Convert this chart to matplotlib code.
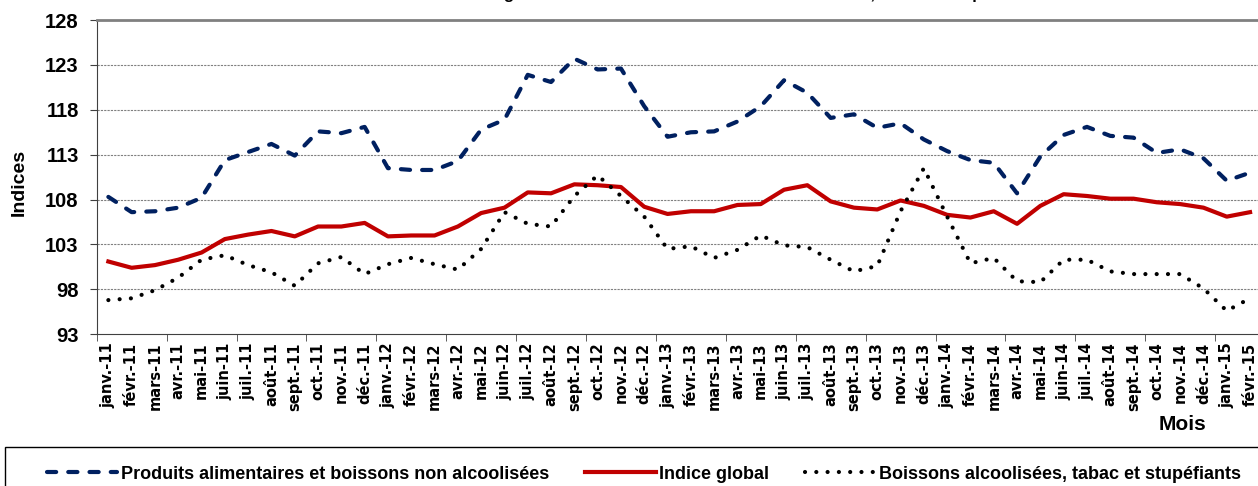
import numpy as np
import matplotlib
matplotlib.use('Agg')
import matplotlib.pyplot as plt
from matplotlib.patches import Rectangle

# data
mois = ['janv.', 'févr.', 'mars', 'avr.', 'mai', 'juin',
        'juil.', 'août', 'sept.', 'oct.', 'nov.', 'déc.']
labels = [m + '-' + a for a in ['11', '12', '13', '14'] for m in mois] + ['janv.-15', 'févr.-15']

alim = [108.3, 106.6, 106.7, 107.1, 108.2, 112.4, 113.3, 114.2, 112.9, 115.6,
        115.4, 116.1, 111.5, 111.3, 111.3, 112.3, 115.8, 116.9, 121.9, 121.1,
        123.7, 122.5, 122.6, 118.4, 115.0, 115.5, 115.6, 116.7, 118.4, 121.3,
        119.9, 117.1, 117.5, 116.0, 116.5, 114.7, 113.4, 112.4, 112.1, 108.7,
        112.8, 115.2, 116.1, 115.1, 114.9, 113.2, 113.6, 112.6, 110.1, 111.0]
glob = [101.1, 100.4, 100.7, 101.3, 102.1, 103.6, 104.1, 104.5, 103.9, 105.0,
        105.0, 105.4, 103.9, 104.0, 104.0, 105.0, 106.5, 107.1, 108.8, 108.7,
        109.7, 109.6, 109.4, 107.2, 106.4, 106.7, 106.7, 107.4, 107.5, 109.1,
        109.6, 107.8, 107.1, 106.9, 107.9, 107.3, 106.3, 106.0, 106.7, 105.3,
        107.3, 108.6, 108.4, 108.1, 108.1, 107.7, 107.5, 107.1, 106.1, 106.6]
boiss = [96.8, 97.0, 97.9, 99.3, 101.3, 101.8, 100.7, 99.9, 98.4, 100.9,
         101.6, 99.7, 100.8, 101.5, 100.8, 100.2, 102.5, 106.6, 105.3, 105.0,
         108.4, 110.7, 108.4, 106.1, 102.5, 102.8, 101.5, 102.4, 104.0, 102.9,
         102.7, 101.3, 100.0, 100.6, 106.7, 111.5, 106.1, 100.9, 101.5, 98.9,
         98.8, 101.3, 101.3, 100.0, 99.7, 99.7, 99.7, 98.1, 95.6, 97.0]

noms = ['Produits alimentaires et boissons non alcoolisées',
        'Indice global',
        'Boissons alcoolisées, tabac et stupéfiants']
titre = "Evolution de l'indice global et des indices des boissons alcoolisées, tabac et stupéfiants"

W, H = 1258, 486
fig = plt.figure(figsize=(W / 100, H / 100), dpi=100)
ax = fig.add_axes([96.7 / W, 1 - 334.2 / H, 1165 / W, 314.1 / H])

x = np.arange(len(labels))
l1, = ax.plot(x, alim, color='#002060', lw=3, linestyle=(0, (2.2, 2.9)),
              dash_capstyle='round', zorder=3)
l2, = ax.plot(x, glob, color='#C00000', lw=3, zorder=3)
l3, = ax.plot(x, boiss, color='black', lw=3, linestyle=(0, (0.01, 2.7)),
              dash_capstyle='round', zorder=3)

ax.set_xlim(-0.5, len(labels) - 0.5)
ax.set_ylim(93, 128)
ax.set_yticks(range(93, 129, 5))
for v in range(98, 128, 5):
    ax.axhline(v, color='#808080', lw=0.8, linestyle=(0, (2, 1)), zorder=1)

ax.set_xticks(x)
ax.set_xticklabels(labels, rotation=90, fontfamily='DejaVu Sans',
                   fontweight='bold', fontsize=10.5)
ax.set_xticks(np.arange(-0.5, len(labels), 3), minor=True)
ax.tick_params(axis='x', which='major', length=0, pad=6)
ax.tick_params(axis='x', which='minor', length=5, color='#404040')
ax.tick_params(axis='y', length=5, pad=8, color='#404040')
for t in ax.get_yticklabels():
    t.set_fontfamily('Liberation Sans')
    t.set_fontweight('bold')
    t.set_fontsize(14.5)

ax.spines['right'].set_visible(False)
ax.spines['top'].set_color('#808080')
ax.spines['top'].set_linewidth(2)
ax.spines['left'].set_color('#404040')
ax.spines['bottom'].set_color('#404040')

bold = {'family': 'Liberation Sans', 'weight': 'bold'}
fig.text(1183 / W, 1 - 424 / H, 'Mois', ha='center', va='center', fontsize=15, **bold)
fig.text(19 / W, 1 - 182 / H, 'Indices', ha='center', va='center', rotation=90,
         fontsize=14, **bold)
# titre presque entièrement coupé en haut, comme sur l'original
fig.text(687 / W, 1 + 1 / H, titre, ha='center', va='baseline', fontsize=12, **bold)

# cadre de la légende (coupé en bas et à droite)
fig.patches.append(Rectangle((5 / W, -0.2), 1.2, 0.2 + 1 - 447 / H,
                             transform=fig.transFigure, fill=False,
                             ec='black', lw=1))
fig.legend([l1, l2, l3], noms, loc='center', bbox_to_anchor=(644 / W, 1 - 474 / H),
           ncol=3, frameon=False, prop={'family': 'Liberation Sans', 'weight': 'bold', 'size': 13},
           handlelength=3.9, handletextpad=0.2, columnspacing=2.0)

fig.savefig('out.png', dpi=100)
